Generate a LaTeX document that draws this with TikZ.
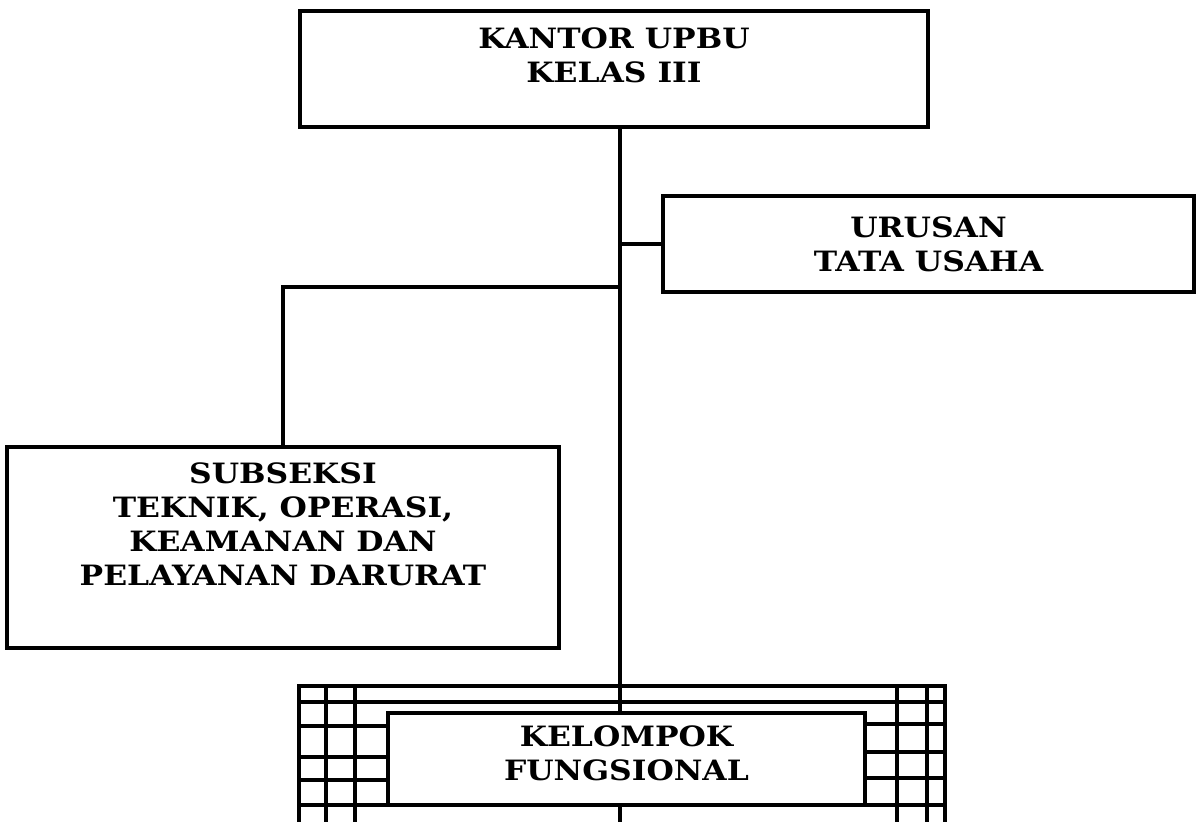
\documentclass[tikz,border=0pt]{standalone}
\usepackage{fontspec}
\setmainfont{DejaVu Serif}[FakeStretch=1.12]
\usetikzlibrary{positioning}

\begin{document}
\begin{tikzpicture}[x=0.5pt, y=-0.5pt,
  font=\bfseries\fontsize{14}{17}\selectfont,
  box/.style={draw, line width=2pt, inner sep=0pt},
  lbl/.style={align=center, inner sep=0pt},
  ln/.style={line width=1.8pt},
  grid/.style={line width=2.2pt}]
\useasboundingbox (0,0) rectangle (1196,822);
% boxes
\node[box, minimum width=314pt, minimum height=58pt] (kantor) at (614,69) {};
\node[lbl, yshift=7pt] (kantorT) at (kantor) {KANTOR UPBU\\KELAS III};
\node[box, minimum width=265.5pt, minimum height=48pt] (urusan) at (928.5,244) {};
\node[lbl] (urusanT) at (urusan) {URUSAN\\TATA USAHA};
\node[box, minimum width=276pt, minimum height=100.5pt] (subseksi) at (283,547.5) {};
\node[lbl, yshift=11.5pt] (subseksiT) at (subseksi) {SUBSEKSI\\TEKNIK, OPERASI,\\KEAMANAN DAN\\PELAYANAN DARURAT};
\node[box, minimum width=238.5pt, minimum height=46pt] (kelompok) at (626.5,759) {};
\node[lbl, yshift=3pt] (kelompokT) at (kelompok) {KELOMPOK\\FUNGSIONAL};
% frame round kelompok
\draw[grid] (299,822) -- (299,686) -- (945,686) -- (945,822);
\draw[grid] (299,702) -- (945,702);
\draw[grid] (299,805) -- (945,805);
\foreach \x in {326,355,897,927} \draw[grid] (\x,686) -- (\x,822);
\foreach \y in {726,757,780} \draw[grid] (299,\y) -- (kelompok.west |- 0,\y);
\foreach \y in {724,752,778} \draw[grid] (kelompok.east |- 0,\y) -- (945,\y);
% lines
\coordinate (spine) at (620,0);
\coordinate (split) at (620,287);
\coordinate (foot) at (620,822);
\draw[ln] (kantor.south -| spine) -- (kelompok.north -| spine);
\draw[ln] (urusan.west -| spine) -- (urusan.west);
\draw[ln] (split) -| (subseksi.north);
\draw[ln] (kelompok.south -| spine) -- (foot);
\end{tikzpicture}
\end{document}
